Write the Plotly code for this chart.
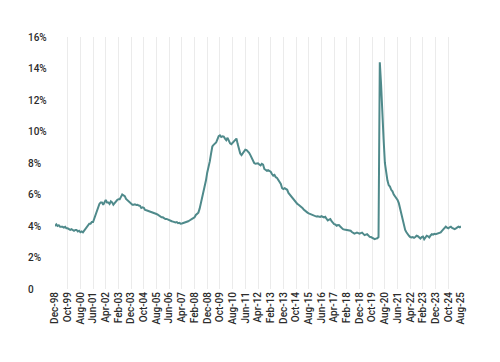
import pandas as pd
import plotly.graph_objects as go

# Monthly rate (%), Dec-1998 .. Aug-2025
r1998 = [4.0]
r1999 = [4.1, 4.0, 4.05, 3.95, 3.95, 3.95, 3.9, 3.95, 3.85, 3.85, 3.8, 3.75]
r2000 = [3.8, 3.75, 3.7, 3.75, 3.75, 3.65, 3.7, 3.6, 3.65, 3.6, 3.7, 3.8]
r2001 = [3.9, 4.0, 4.15, 4.15, 4.25, 4.25, 4.5, 4.75, 4.9, 5.2, 5.4, 5.5]
r2002 = [5.5, 5.35, 5.55, 5.65, 5.5, 5.5, 5.4, 5.57, 5.5, 5.35, 5.45, 5.6]
r2003 = [5.65, 5.7, 5.7, 5.85, 6.0, 5.95, 5.9, 5.72, 5.65, 5.6, 5.5, 5.44]
r2004 = [5.35, 5.35, 5.38, 5.33, 5.35, 5.3, 5.28, 5.14, 5.18, 5.15, 5.02, 5.0]
r2005 = [4.97, 4.98, 4.92, 4.88, 4.86, 4.83, 4.78, 4.76, 4.72, 4.65, 4.62, 4.55]
r2006 = [4.55, 4.5, 4.44, 4.45, 4.4, 4.38, 4.35, 4.3, 4.28, 4.25, 4.23, 4.25]
r2007 = [4.18, 4.2, 4.15, 4.16, 4.18, 4.2, 4.22, 4.25, 4.3, 4.35, 4.38, 4.45]
r2008 = [4.5, 4.55, 4.7, 4.8, 4.85, 5.1, 5.45, 5.8, 6.1, 6.5, 6.9, 7.4]
r2009 = [7.7, 8.1, 8.6, 9.05, 9.15, 9.2, 9.3, 9.5, 9.7, 9.75, 9.65, 9.7]
r2010 = [9.68, 9.55, 9.45, 9.6, 9.35, 9.25, 9.2, 9.3, 9.4, 9.5, 9.55, 9.2]
r2011 = [8.8, 8.6, 8.5, 8.6, 8.7, 8.85, 8.82, 8.75, 8.65, 8.5, 8.3, 8.1]
r2012 = [8.0, 7.95, 7.95, 7.98, 7.9, 7.85, 7.95, 7.9, 7.62, 7.55, 7.5, 7.55]
r2013 = [7.5, 7.45, 7.3, 7.2, 7.25, 7.1, 7.05, 6.93, 6.8, 6.67, 6.4, 6.35]
r2014 = [6.4, 6.35, 6.3, 6.1, 6.0, 5.85, 5.8, 5.7, 5.6, 5.5, 5.4, 5.35]
r2015 = [5.3, 5.2, 5.15, 5.05, 4.97, 4.95, 4.85, 4.8, 4.76, 4.72, 4.68, 4.65]
r2016 = [4.65, 4.6, 4.62, 4.6, 4.58, 4.62, 4.55, 4.54, 4.58, 4.45, 4.35, 4.4]
r2017 = [4.44, 4.3, 4.2, 4.12, 4.1, 4.02, 4.06, 4.05, 3.95, 3.85, 3.8, 3.78]
r2018 = [3.76, 3.74, 3.74, 3.72, 3.7, 3.62, 3.55, 3.52, 3.55, 3.58, 3.55, 3.52]
r2019 = [3.55, 3.58, 3.5, 3.42, 3.45, 3.48, 3.4, 3.31, 3.3, 3.25, 3.23, 3.17]
r2020 = [3.2, 3.22, 3.3, 14.4, 13.0, 10.9, 9.5, 8.0, 7.4, 6.9, 6.6, 6.5]
r2021 = [6.3, 6.2, 6.0, 5.9, 5.75, 5.65, 5.45, 5.1, 4.7, 4.35, 4.0, 3.75]
r2022 = [3.6, 3.45, 3.38, 3.3, 3.27, 3.3, 3.25, 3.3, 3.38, 3.35, 3.28, 3.2]
r2023 = [3.3, 3.33, 3.16, 3.25, 3.38, 3.35, 3.27, 3.4, 3.48, 3.45, 3.5, 3.48]
r2024 = [3.5, 3.55, 3.55, 3.59, 3.69, 3.8, 3.9, 3.96, 3.9, 3.85, 3.92, 3.96]
r2025 = [3.88, 3.82, 3.8, 3.85, 3.9, 3.96, 3.92, 3.97]

rate = (r1998 + r1999 + r2000 + r2001 + r2002 + r2003 + r2004 + r2005 + r2006
        + r2007 + r2008 + r2009 + r2010 + r2011 + r2012 + r2013 + r2014 + r2015
        + r2016 + r2017 + r2018 + r2019 + r2020 + r2021 + r2022 + r2023 + r2024
        + r2025)

months = pd.date_range("1998-12-01", "2025-08-01", freq="MS").strftime("%b-%y").tolist()

x_tick_labels = ["Dec-98", "Oct-99", "Aug-00", "Jun-01", "Apr-02", "Feb-03", "Dec-03",
                 "Oct-04", "Aug-05", "Jun-06", "Apr-07", "Feb-08", "Dec-08", "Oct-09",
                 "Aug-10", "Jun-11", "Apr-12", "Feb-13", "Dec-13", "Oct-14", "Aug-15",
                 "Jun-16", "Apr-17", "Feb-18", "Dec-18", "Oct-19", "Aug-20", "Jun-21",
                 "Apr-22", "Feb-23", "Dec-23", "Oct-24", "Aug-25"]
y_tick_vals = [0, 2, 4, 6, 8, 10, 12, 14, 16]
y_tick_labels = ["0", "2%", "4%", "6%", "8%", "10%", "12%", "14%", "16%"]

LINE = "#4f8a8b"
TXT = "#2b2b2b"
FONT = "Roboto, Arial, sans-serif"

fig = go.Figure()
fig.add_trace(go.Scatter(x=months, y=rate, mode="lines",
                         line=dict(color=LINE, width=2), showlegend=False))

# page has an 8px body margin, so the figure is sized/placed to compensate
fig.update_layout(
    width=484, height=346,
    margin=dict(l=47, r=31, t=29, b=65),
    paper_bgcolor="white", plot_bgcolor="white",
    font=dict(family=FONT, size=10, color=TXT),
    xaxis=dict(type="category", categoryorder="array", categoryarray=months,
               range=[0, len(months) - 1],
               tickmode="array", tickvals=x_tick_labels, ticktext=x_tick_labels,
               tickangle=-90, showgrid=True, gridcolor="#ebebeb", gridwidth=1,
               zeroline=False, showline=False, ticks="",
               tickfont=dict(family=FONT, size=10, color=TXT, weight=500)),
    yaxis=dict(range=[0, 16], tickvals=y_tick_vals, showticklabels=False,
               showgrid=False, zeroline=False, showline=False, ticks=""),
)

for v, t in zip(y_tick_vals, y_tick_labels):
    fig.add_annotation(xref="paper", yref="y", x=-29 / 406, y=v, text=t,
                       xanchor="left", yanchor="middle", showarrow=False,
                       font=dict(family=FONT, size=10, color=TXT, weight=500))

fig.write_html("out.html")
